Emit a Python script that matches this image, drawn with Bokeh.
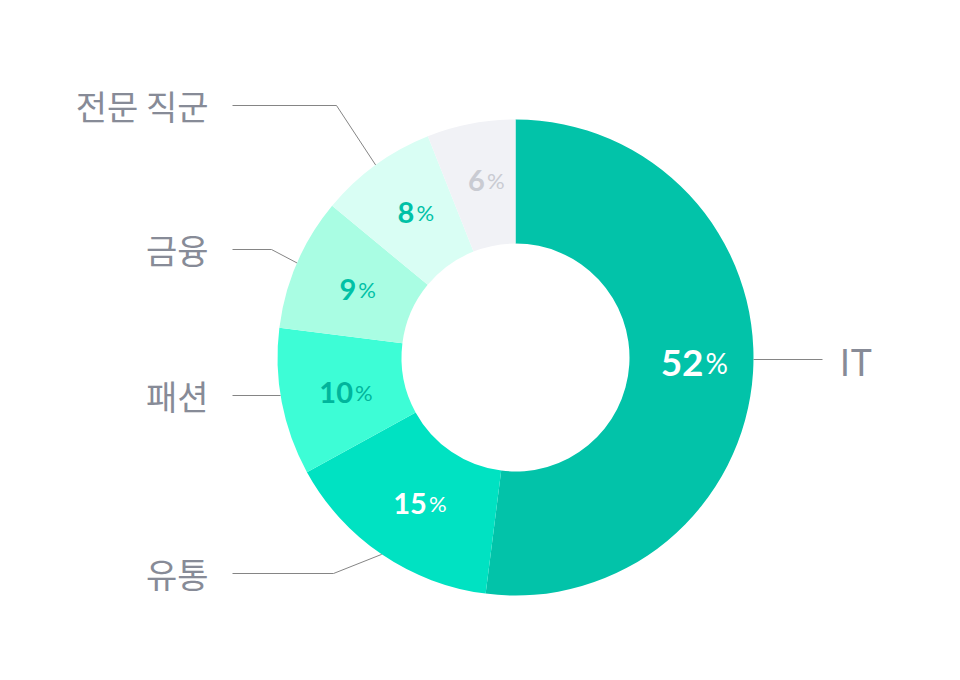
import numpy as np
from bokeh.plotting import figure
from bokeh.models import Range1d
from bokeh.core.properties import value
from bokeh.embed import file_html
from bokeh.resources import INLINE

# ---- data ----
categories = ["IT", "유통", "패션", "금융", "전문 직군", "기타"]
shares = [52, 15, 10, 9, 8, 6]

# ---- styles ----
slice_colors = ["#02C3A9", "#00E2C2", "#3DFDD6", "#A9FDE3", "#D9FEF4", "#F1F2F6"]
pct_colors = ["#FFFFFF", "#FFFFFF", "#00B59C", "#00C1A6", "#00C1A6", "#C9CBD2"]
num_sizes = [37, 29, 29, 29, 29, 29]
sign_sizes = [28, 22, 22, 22, 22, 22]
cat_sizes = [37, 34, 34, 34, 34, 34]
pct_nudge_y = [3, -2, -4, -3, 1, 3]

# ---- layout (data units = page pixels, y measured upward from page bottom) ----
CX, CY = 515, 323
R_OUT, R_IN, R_TXT = 238, 114, 176
label_y = [321, 107, 285, 431, 575, None]
elbow_x = [None, 333, None, 271, 336, None]
LEFT_END, RIGHT_END = 232, 822
LEFT_LABEL_X, RIGHT_LABEL_X = 208, 839

p = figure(width=944, height=664, x_range=Range1d(0, 944), y_range=Range1d(16, 680),
           output_backend="svg", toolbar_location=None, min_border=0,
           x_axis_location=None, y_axis_location=None)
p.grid.visible = False
p.outline_line_color = None
p.background_fill_color = "white"
p.border_fill_color = "white"

total = float(sum(shares))
fr = np.array(shares) / total
cum = np.cumsum(fr)
prev = cum - fr
start = np.pi / 2 - 2 * np.pi * prev
end = np.pi / 2 - 2 * np.pi * cum
mid = (start + end) / 2

p.annular_wedge(x=[CX] * len(shares), y=[CY] * len(shares), inner_radius=R_IN, outer_radius=R_OUT,
                start_angle=list(start), end_angle=list(end), direction="clock",
                fill_color=slice_colors, line_color=None)

# leader lines and category labels
for i, cat in enumerate(categories):
    ly = label_y[i]
    if ly is None:
        continue
    right = np.cos(mid[i]) > 0
    if elbow_x[i] is None:
        dx = np.sqrt(R_OUT ** 2 - (ly - CY) ** 2)
        sx = CX + dx if right else CX - dx
        xs = [sx, RIGHT_END if right else LEFT_END]
        ys = [ly, ly]
    else:
        sx = CX + R_OUT * np.cos(mid[i])
        sy = CY + R_OUT * np.sin(mid[i])
        xs = [sx, elbow_x[i], RIGHT_END if right else LEFT_END]
        ys = [sy, ly, ly]
    p.line(xs, ys, line_color="#858585", line_width=1)
    p.text(x=[RIGHT_LABEL_X if right else LEFT_LABEL_X], y=[ly], text=[cat],
           text_font=value("Noto Sans CJK KR"), text_font_size=f"{cat_sizes[i]}px",
           text_color="#878B97", text_align="left" if right else "right",
           text_baseline="middle")

# percentage labels
for i, s in enumerate(shares):
    lx = CX + R_TXT * np.cos(mid[i])
    ly = CY + R_TXT * np.sin(mid[i])
    n = len(str(s))
    fs, fsp = num_sizes[i], sign_sizes[i]
    wn = n * 0.55 * fs
    wp = 0.78 * fsp
    xr = lx + (wn - wp - 2) / 2 + 4
    yb = ly + 0.12 * fs - 2 + pct_nudge_y[i]
    p.text(x=[xr], y=[yb], text=[str(s)], text_font=value("Lato"), text_font_style="bold",
           text_font_size=f"{fs}px", text_color=pct_colors[i], text_align="right",
           text_baseline="alphabetic")
    p.text(x=[xr + 2], y=[yb], text=["%"], text_font=value("Lato"),
           text_font_size=f"{fsp}px", text_color=pct_colors[i], text_align="left",
           text_baseline="alphabetic")

open("out.html", "w").write(file_html(p, INLINE))
